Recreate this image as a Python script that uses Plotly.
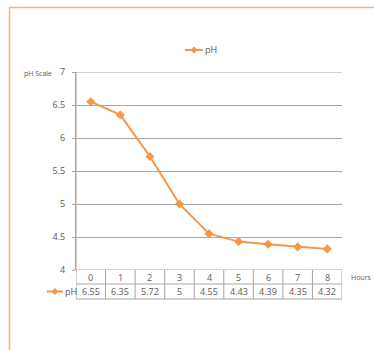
import plotly.graph_objects as go

hours = [0, 1, 2, 3, 4, 5, 6, 7, 8]
ph = [6.55, 6.35, 5.72, 5, 4.55, 4.43, 4.39, 4.35, 4.32]
y_ticks = [4, 4.5, 5, 5.5, 6, 6.5, 7]
series_name = "pH"

ORANGE = "#F79646"
GRID = "#A6A6A6"
TEXT = "#595959"
FONT = "Open Sans"

W, H = 374, 350
L, R, T, B = 76, 32, 72, 80
pw, ph_h = W - L - R, H - T - B


def px(x):
    return (x - L) / pw


def py(y):
    return (H - B - y) / ph_h


fig = go.Figure()
fig.add_trace(go.Scatter(
    x=hours, y=ph, mode="lines+markers", name=series_name,
    line=dict(color=ORANGE, width=2),
    marker=dict(symbol="diamond", size=7, color=ORANGE),
    showlegend=False, cliponaxis=False,
))

shapes = []
annotations = []

# outer chart border (extends beyond the visible area)
shapes.append(dict(type="line", xref="paper", yref="paper", x0=px(9), x1=px(400),
                   y0=py(7.5), y1=py(7.5), line=dict(color="#F9B27A", width=1.5)))
shapes.append(dict(type="line", xref="paper", yref="paper", x0=px(9.5), x1=px(9.5),
                   y0=py(7), y1=py(400), line=dict(color="#F9B27A", width=1.5)))

# gridlines at the ends of the value range
for yv in (y_ticks[0], y_ticks[-1]):
    shapes.append(dict(type="line", xref="paper", yref="y", x0=px(73), x1=1,
                       y0=yv, y1=yv, line=dict(color=GRID, width=1), layer="below"))

# data table under the plot
row1_bottom = py(284)
row2_bottom = py(299)
for yy in (row1_bottom, row2_bottom):
    shapes.append(dict(type="line", xref="x", yref="paper", x0=-1.6, x1=8.5,
                       y0=yy, y1=yy, line=dict(color=GRID, width=1)))
for i in range(10):
    xb = i - 0.5
    shapes.append(dict(type="line", xref="x", yref="paper", x0=xb, x1=xb,
                       y0=0 if i else 1, y1=row2_bottom, line=dict(color=GRID, width=1)))
shapes.append(dict(type="line", xref="x", yref="paper", x0=-1.6, x1=-1.6,
                   y0=row1_bottom, y1=row2_bottom, line=dict(color=GRID, width=1)))

for h, v in zip(hours, ph):
    annotations.append(dict(x=h, y=(0 + row1_bottom) / 2, xref="x", yref="paper",
                            text=str(h), showarrow=False, yanchor="middle",
                            font=dict(size=9, color=TEXT, family=FONT)))
    annotations.append(dict(x=h, y=(row1_bottom + row2_bottom) / 2, xref="x", yref="paper",
                            text=f"{v:g}", showarrow=False, yanchor="middle",
                            font=dict(size=9, color=TEXT, family=FONT)))

# series key inside the table
key_y = (row1_bottom + row2_bottom) / 2
shapes.append(dict(type="line", xref="paper", yref="paper", x0=px(47), x1=px(63),
                   y0=key_y, y1=key_y, line=dict(color=ORANGE, width=2)))
shapes.append(dict(type="path", xref="paper", yref="paper",
                   path=f"M{px(55)},{key_y + 3.5/ph_h} L{px(58.5)},{key_y} L{px(55)},{key_y - 3.5/ph_h} L{px(51.5)},{key_y} Z",
                   fillcolor=ORANGE, line=dict(width=0)))
annotations.append(dict(x=px(63), y=key_y, xref="paper", yref="paper", text=series_name,
                        showarrow=False, xanchor="left", yanchor="middle",
                        font=dict(size=9, color=TEXT, family=FONT)))

# legend above the plot
leg_y = py(50)
shapes.append(dict(type="line", xref="paper", yref="paper", x0=px(185), x1=px(203),
                   y0=leg_y, y1=leg_y, line=dict(color=ORANGE, width=2)))
shapes.append(dict(type="path", xref="paper", yref="paper",
                   path=f"M{px(194)},{leg_y + 3.5/ph_h} L{px(197.5)},{leg_y} L{px(194)},{leg_y - 3.5/ph_h} L{px(190.5)},{leg_y} Z",
                   fillcolor=ORANGE, line=dict(width=0)))
annotations.append(dict(x=px(203), y=leg_y, xref="paper", yref="paper", text=series_name,
                        showarrow=False, xanchor="left", yanchor="middle",
                        font=dict(size=9, color=TEXT, family=FONT)))

# axis titles
annotations.append(dict(x=px(22), y=py(73), xref="paper", yref="paper", text="pH Scale",
                        showarrow=False, xanchor="left", yanchor="middle",
                        font=dict(size=7, color=TEXT, family=FONT)))
annotations.append(dict(x=px(349), y=py(277), xref="paper", yref="paper", text="Hours",
                        showarrow=False, xanchor="left", yanchor="middle",
                        font=dict(size=7, color=TEXT, family=FONT)))

fig.update_layout(
    width=W, height=H,
    margin=dict(l=L, r=R, t=T, b=B),
    paper_bgcolor="white", plot_bgcolor="white",
    shapes=shapes, annotations=annotations,
    font=dict(family=FONT, color=TEXT),
    xaxis=dict(range=[-0.5, 8.5], showticklabels=False, showgrid=False,
               zeroline=False, showline=False, fixedrange=True),
    yaxis=dict(range=[4, 7], tickvals=y_ticks, ticktext=[f"{t:g}" for t in y_ticks],
               showgrid=True, gridcolor=GRID, gridwidth=1, zeroline=False,
               showline=True, linecolor=GRID, linewidth=1,
               ticks="outside", ticklen=3, tickcolor=GRID, ticklabelstandoff=5,
               tickfont=dict(size=9, color=TEXT, family=FONT), fixedrange=True),
)

fig.write_html("out.html")
